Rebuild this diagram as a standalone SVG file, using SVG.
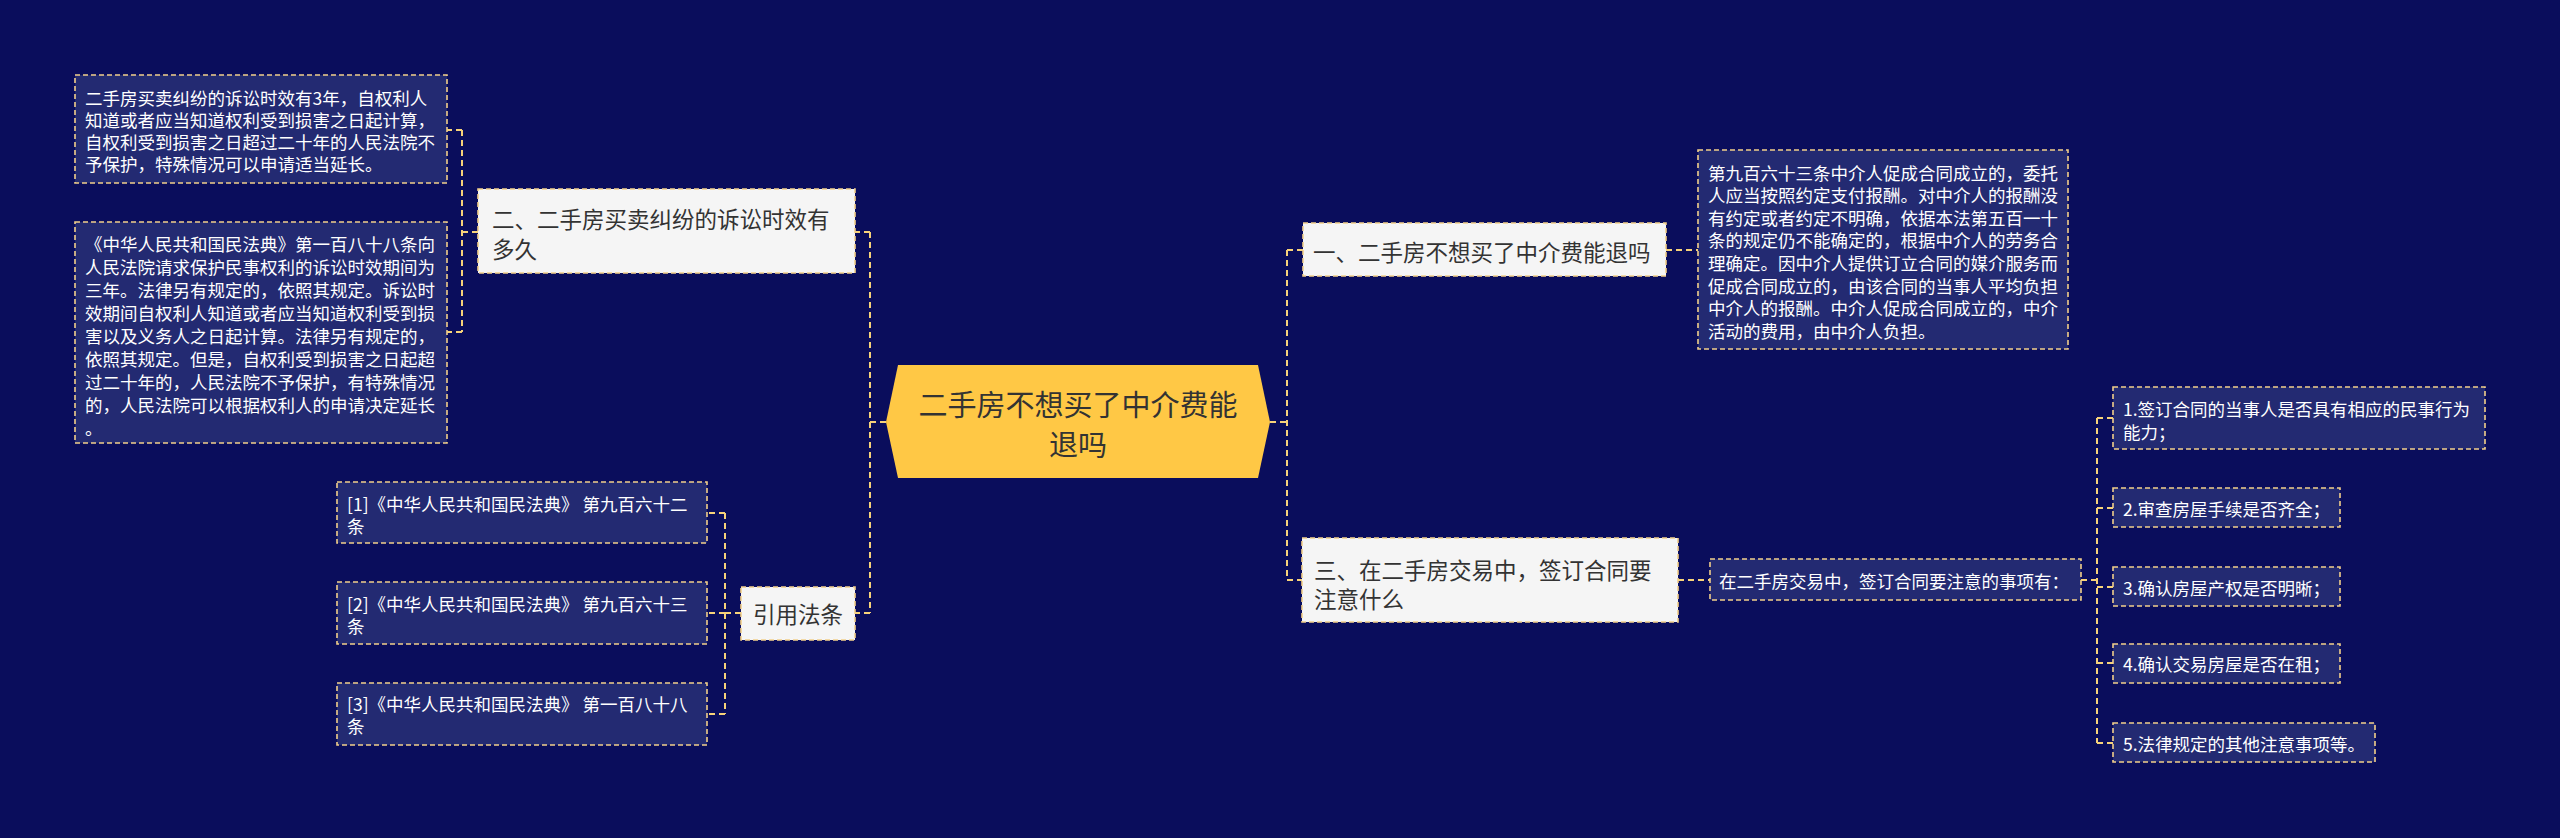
<svg xmlns="http://www.w3.org/2000/svg" width="2560" height="838" viewBox="0 0 2560 838">
<style>
.leaf{fill:#232A72;stroke:#F2CF8A;stroke-width:1.6;stroke-dasharray:5 3}
.lv1{fill:#F5F5F5;stroke:#F2CF8A;stroke-width:1.6;stroke-dasharray:5 3}
.conn{fill:none;stroke:#F7D27A;stroke-width:2;stroke-dasharray:6 4}
text{font-family:"Noto Sans CJK SC","Noto Sans",sans-serif;dominant-baseline:central}
.w{fill:#FFFFFF;font-size:17.5px}
.d{fill:#333333;font-size:22.5px}
.c{fill:#333333;font-size:29px;text-anchor:middle}
</style>
<rect x="0" y="0" width="2560" height="838" fill="#0A0D5C"/>
<g id="connectors">
<path class="conn" d="M886 422H870M870 232V613M870 232H855M870 613H855"/>
<path class="conn" d="M1270 422H1287M1287 250V580M1287 250H1303M1287 580H1302"/>
<path class="conn" d="M1666 250H1698"/>
<path class="conn" d="M1678 580H1710"/>
<path class="conn" d="M2081 580H2097M2097 418V743M2097 418H2113M2097 508H2113M2097 587H2113M2097 663H2113M2097 743H2113"/>
<path class="conn" d="M478 232H462M462 130V332M462 130H447M462 332H447"/>
<path class="conn" d="M741 613H725M725 513V714M725 513H707M725 613H707M725 714H707"/>
</g>
<g id="center">
<polygon points="886,422 898,365 1258,365 1270,422 1258,478 898,478" fill="#FFC845"/>
<text class="c" x="1078" y="403">二手房不想买了中介费能</text>
<text class="c" x="1078" y="443">退吗</text>
</g>
<g id="n-left1">
<rect class="lv1" x="478" y="189" width="377" height="84"/>
<text class="d" x="492" y="218">二、二手房买卖纠纷的诉讼时效有</text>
<text class="d" x="492" y="248">多久</text>
</g>
<g id="n-left1-a">
<rect class="leaf" x="75" y="75" width="372" height="108"/>
<text class="w" x="85" y="97">二手房买卖纠纷的诉讼时效有3年，自权利人</text>
<text class="w" x="85" y="119">知道或者应当知道权利受到损害之日起计算，</text>
<text class="w" x="85" y="141">自权利受到损害之日超过二十年的人民法院不</text>
<text class="w" x="85" y="163">予保护，特殊情况可以申请适当延长。</text>
</g>
<g id="n-left1-b">
<rect class="leaf" x="75" y="222" width="372" height="221"/>
<text class="w" x="85" y="243">《中华人民共和国民法典》第一百八十八条向</text>
<text class="w" x="85" y="266">人民法院请求保护民事权利的诉讼时效期间为</text>
<text class="w" x="85" y="289">三年。法律另有规定的，依照其规定。诉讼时</text>
<text class="w" x="85" y="312">效期间自权利人知道或者应当知道权利受到损</text>
<text class="w" x="85" y="335">害以及义务人之日起计算。法律另有规定的，</text>
<text class="w" x="85" y="358">依照其规定。但是，自权利受到损害之日起超</text>
<text class="w" x="85" y="381">过二十年的，人民法院不予保护，有特殊情况</text>
<text class="w" x="85" y="404">的，人民法院可以根据权利人的申请决定延长</text>
<text class="w" x="85" y="427">。</text>
</g>
<g id="n-left2">
<rect class="lv1" x="741" y="587" width="114" height="53"/>
<text class="d" x="798" y="613" text-anchor="middle">引用法条</text>
</g>
<g id="n-ref1">
<rect class="leaf" x="337" y="482" width="370" height="61"/>
<text class="w" x="347" y="503">[1]《中华人民共和国民法典》 第九百六十二</text>
<text class="w" x="347" y="525">条</text>
</g>
<g id="n-ref2">
<rect class="leaf" x="337" y="582" width="370" height="62"/>
<text class="w" x="347" y="603">[2]《中华人民共和国民法典》 第九百六十三</text>
<text class="w" x="347" y="625">条</text>
</g>
<g id="n-ref3">
<rect class="leaf" x="337" y="683" width="370" height="62"/>
<text class="w" x="347" y="703">[3]《中华人民共和国民法典》 第一百八十八</text>
<text class="w" x="347" y="725">条</text>
</g>
<g id="n-right1">
<rect class="lv1" x="1303" y="223" width="363" height="53"/>
<text class="d" x="1313" y="251">一、二手房不想买了中介费能退吗</text>
</g>
<g id="n-right1-a">
<rect class="leaf" x="1698" y="150" width="370" height="199"/>
<text class="w" x="1708" y="172">第九百六十三条中介人促成合同成立的，委托</text>
<text class="w" x="1708" y="194.6">人应当按照约定支付报酬。对中介人的报酬没</text>
<text class="w" x="1708" y="217.2">有约定或者约定不明确，依据本法第五百一十</text>
<text class="w" x="1708" y="239.8">条的规定仍不能确定的，根据中介人的劳务合</text>
<text class="w" x="1708" y="262.4">理确定。因中介人提供订立合同的媒介服务而</text>
<text class="w" x="1708" y="285">促成合同成立的，由该合同的当事人平均负担</text>
<text class="w" x="1708" y="307.6">中介人的报酬。中介人促成合同成立的，中介</text>
<text class="w" x="1708" y="330.2">活动的费用，由中介人负担。</text>
</g>
<g id="n-right2">
<rect class="lv1" x="1302" y="538" width="376" height="84"/>
<text class="d" x="1314" y="569">三、在二手房交易中，签订合同要</text>
<text class="d" x="1314" y="598">注意什么</text>
</g>
<g id="n-right2-a">
<rect class="leaf" x="1710" y="559" width="371" height="41"/>
<text class="w" x="1719" y="580">在二手房交易中，签订合同要注意的事项有：</text>
</g>
<g id="n-item1">
<rect class="leaf" x="2113" y="387" width="372" height="62"/>
<text class="w" x="2123" y="408">1.签订合同的当事人是否具有相应的民事行为</text>
<text class="w" x="2123" y="431">能力；</text>
</g>
<g id="n-item2">
<rect class="leaf" x="2113" y="488" width="227" height="39"/>
<text class="w" x="2123" y="508">2.审查房屋手续是否齐全；</text>
</g>
<g id="n-item3">
<rect class="leaf" x="2113" y="567" width="227" height="39"/>
<text class="w" x="2123" y="587">3.确认房屋产权是否明晰；</text>
</g>
<g id="n-item4">
<rect class="leaf" x="2113" y="644" width="227" height="39"/>
<text class="w" x="2123" y="663">4.确认交易房屋是否在租；</text>
</g>
<g id="n-item5">
<rect class="leaf" x="2113" y="723" width="262" height="39"/>
<text class="w" x="2123" y="743">5.法律规定的其他注意事项等。</text>
</g>
</svg>
